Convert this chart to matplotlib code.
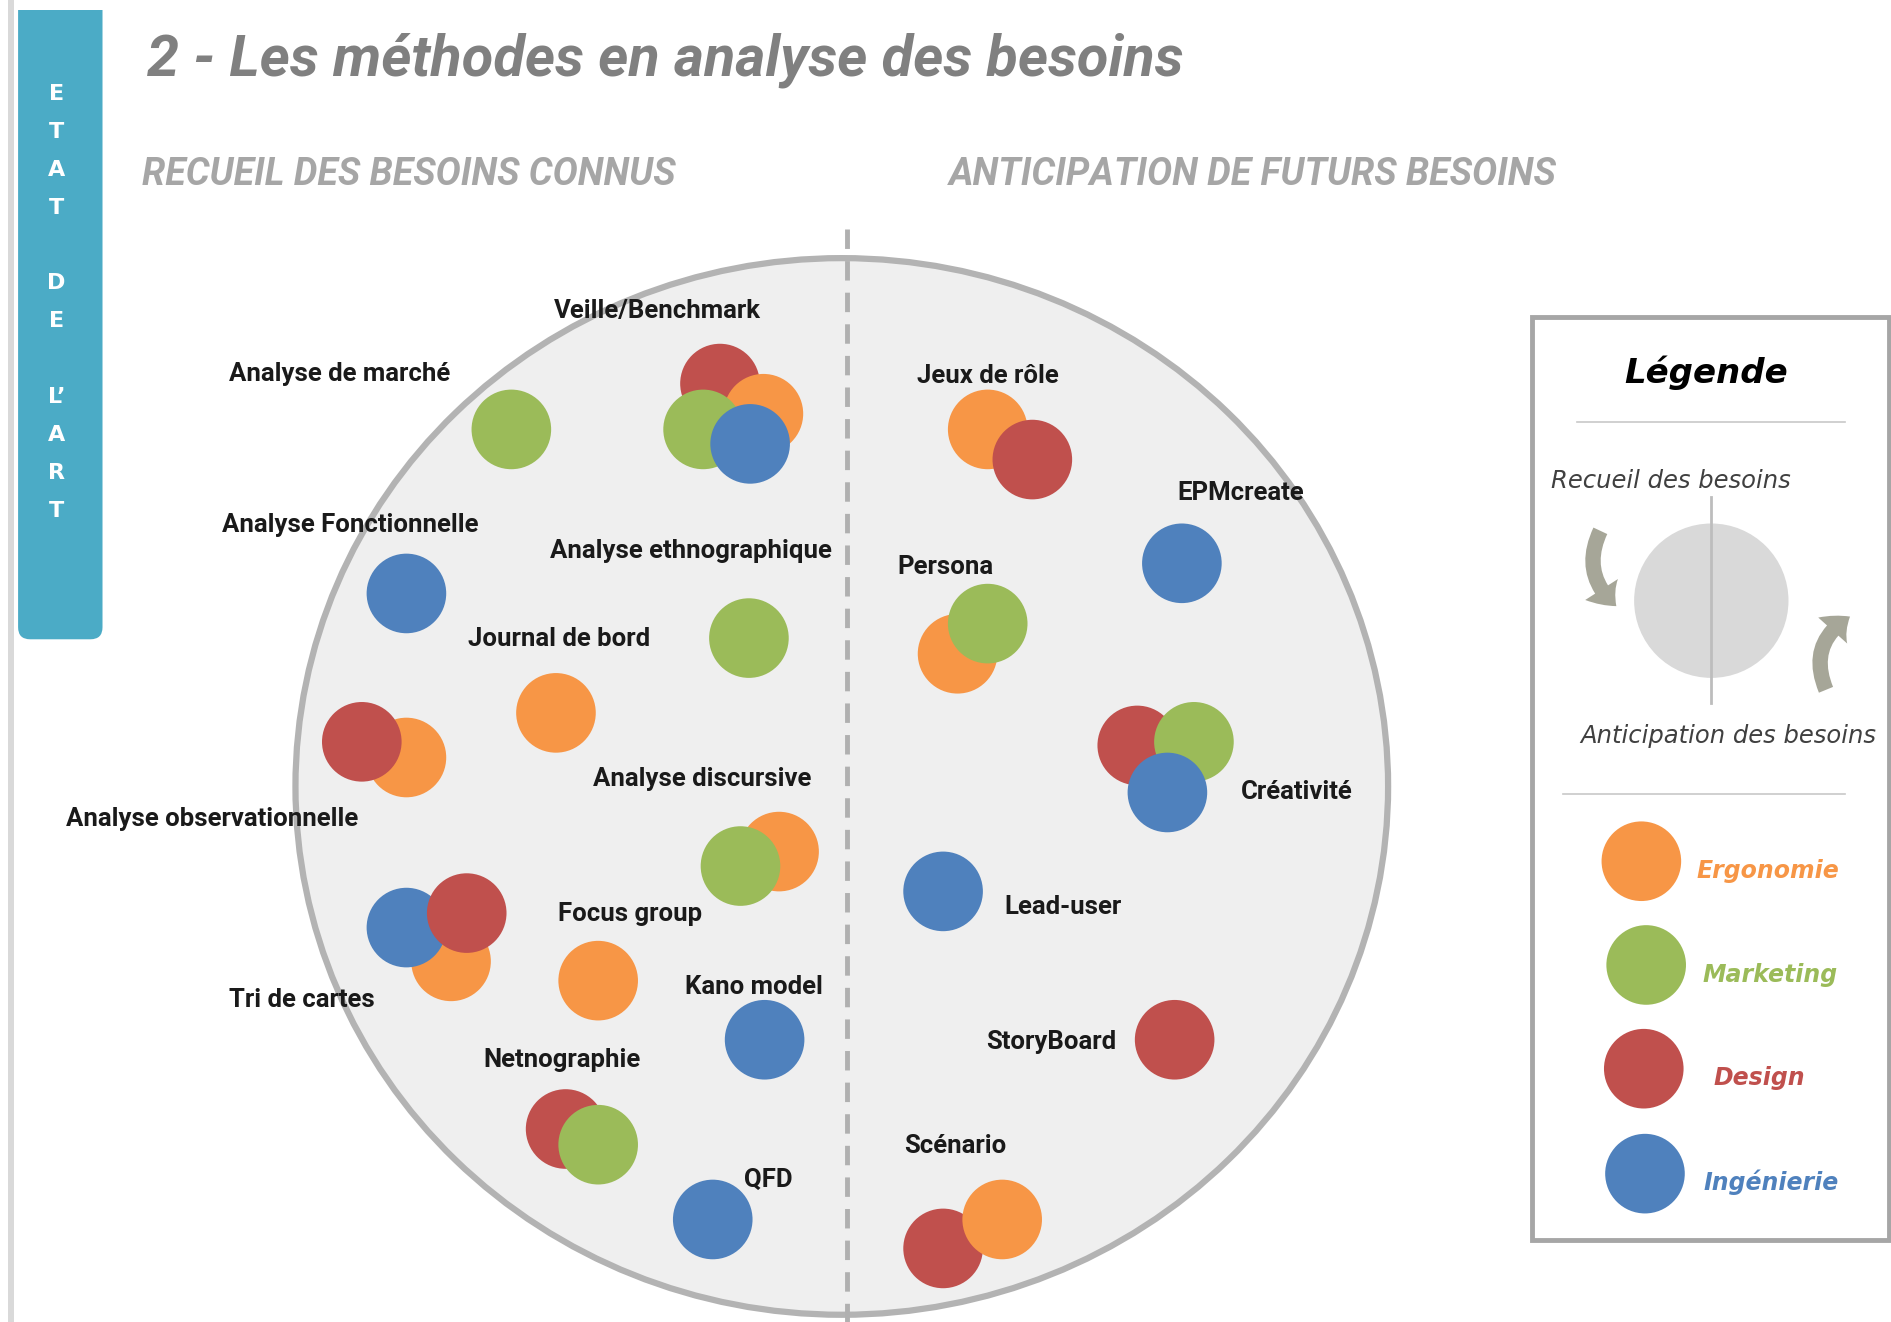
import matplotlib.pyplot as plt
from matplotlib import font_manager
from matplotlib.patches import Circle, Ellipse, Rectangle, FancyBboxPatch, FancyArrowPatch

# disciplines and colours
disciplines = ["Ergonomie", "Marketing", "Design", "Ingénierie"]
colors = {"Ergonomie": "#f79646", "Marketing": "#9bbb59",
          "Design": "#c0504d", "Ingénierie": "#4f81bd"}

# methods : which disciplines use them (drawing order = list order)
methods_known = ["Analyse de marché", "Veille/Benchmark", "Analyse Fonctionnelle",
                 "Analyse ethnographique", "Journal de bord", "Analyse observationnelle",
                 "Analyse discursive", "Tri de cartes", "Focus group", "Kano model",
                 "Netnographie", "QFD"]
methods_future = ["Jeux de rôle", "EPMcreate", "Persona", "Créativité",
                  "Lead-user", "StoryBoard", "Scénario"]

uses = {
    "Analyse de marché": ["Marketing"],
    "Veille/Benchmark": ["Design", "Ergonomie", "Marketing", "Ingénierie"],
    "Analyse Fonctionnelle": ["Ingénierie"],
    "Analyse ethnographique": ["Marketing"],
    "Journal de bord": ["Ergonomie"],
    "Analyse observationnelle": ["Ergonomie", "Design"],
    "Analyse discursive": ["Ergonomie", "Marketing"],
    "Tri de cartes": ["Ergonomie", "Ingénierie", "Design"],
    "Focus group": ["Ergonomie"],
    "Kano model": ["Ingénierie"],
    "Netnographie": ["Design", "Marketing"],
    "QFD": ["Ingénierie"],
    "Jeux de rôle": ["Ergonomie", "Design"],
    "EPMcreate": ["Ingénierie"],
    "Persona": ["Ergonomie", "Marketing"],
    "Créativité": ["Design", "Marketing", "Ingénierie"],
    "Lead-user": ["Ingénierie"],
    "StoryBoard": ["Design"],
    "Scénario": ["Design", "Ergonomie"],
}

# layout (in pixel units of a 1568 x 1096 canvas)
label_pos = {
    "Analyse de marché": (190, 310), "Veille/Benchmark": (459, 258),
    "Analyse Fonctionnelle": (184, 435), "Analyse ethnographique": (456, 457),
    "Journal de bord": (388, 530), "Analyse observationnelle": (55, 679),
    "Analyse discursive": (492, 646), "Tri de cartes": (190, 829),
    "Focus group": (463, 758), "Kano model": (568, 818),
    "Netnographie": (401, 879), "QFD": (617, 978),
    "Jeux de rôle": (760, 312), "EPMcreate": (976, 409), "Persona": (744, 470),
    "Créativité": (1029, 657), "Lead-user": (833, 752),
    "StoryBoard": (818, 864), "Scénario": (750, 950),
}
bubble_pos = {
    "Analyse de marché": [(424, 356)],
    "Veille/Benchmark": [(597, 318), (633, 343), (583, 356), (622, 368)],
    "Analyse Fonctionnelle": [(337, 492)],
    "Analyse ethnographique": [(621, 529)],
    "Journal de bord": [(461, 591)],
    "Analyse observationnelle": [(337, 628), (300, 615)],
    "Analyse discursive": [(646, 706), (614, 718)],
    "Tri de cartes": [(374, 797), (337, 769), (387, 757)],
    "Focus group": [(496, 813)],
    "Kano model": [(634, 862)],
    "Netnographie": [(469, 936), (496, 949)],
    "QFD": [(591, 1011)],
    "Jeux de rôle": [(819, 356), (856, 381)],
    "EPMcreate": [(980, 467)],
    "Persona": [(794, 542), (819, 517)],
    "Créativité": [(943, 618), (990, 615), (968, 657)],
    "Lead-user": [(782, 739)],
    "StoryBoard": [(974, 862)],
    "Scénario": [(782, 1035), (831, 1011)],
}
legend_bubbles = [(1361, 714), (1365, 800), (1363, 886), (1364, 973)]
legend_labels = [(1466, 722), (1468, 808), (1459, 894), (1469, 980)]
R = 33


def has_font(name):
    try:
        font_manager.findfont(name, fallback_to_default=False)
        return True
    except Exception:
        return False


narrow = "Liberation Sans Narrow" if has_font("Liberation Sans Narrow") else "Roboto"

W, H = 1568, 1096
fig = plt.figure(figsize=(18.91, 13.22), dpi=100)
ax = fig.add_axes([0, 0, 1, 1])
ax.set_xlim(0, W)
ax.set_ylim(H, 0)
ax.axis("off")

# left side bar
ax.add_patch(Rectangle((7, 0), 5, H, color="#d9d9d9", lw=0))
ax.add_patch(FancyBboxPatch((15, -40), 70, 570, boxstyle="round,pad=0,rounding_size=10",
                            fc="#4babc6", ec="none"))
ax.add_patch(Rectangle((13, -50), 80, 58, color="white", lw=0, zorder=2))
side_letters = ["E", "T", "A", "T", "", "D", "E", "", "L’", "A", "R", "T"]
y = 78
for ch in side_letters:
    if ch:
        ax.text(47, y, ch, color="white", fontsize=16, fontweight="bold",
                ha="center", va="center", family="DejaVu Sans")
    y += 31.4

# titles
ax.text(122, 50, "2 - Les méthodes en analyse des besoins", fontsize=41.5,
        fontweight="bold", style="italic", color="#808080", va="center", family=narrow)
ax.text(118, 145, "RECUEIL DES BESOINS CONNUS", fontsize=27, fontweight="bold",
        style="italic", color="#a6a6a6", va="center", family=narrow)
ax.text(787, 145, "ANTICIPATION DE FUTURS BESOINS", fontsize=27, fontweight="bold",
        style="italic", color="#a6a6a6", va="center", family=narrow)

# big circle + dashed divider
ax.add_patch(Ellipse((698, 652), 906, 876, fc="#efefef", ec="#b3b3b3", lw=4.5))
ax.plot([702, 702], [190, H], color="#b0b0b0", lw=3.5, ls=(0, (4, 2.5)))

for m in methods_known + methods_future:
    for d, (cx, cy) in zip(uses[m], bubble_pos[m]):
        ax.add_patch(Circle((cx, cy), R, color=colors[d], lw=0, zorder=3))
    lx, ly = label_pos[m]
    ax.text(lx, ly, m, fontsize=18.5, fontweight="bold", color="#1a1a1a",
            va="center", ha="left", family=narrow, zorder=4)

# legend panel
ax.add_patch(Rectangle((1270, 263), 296, 765, fill=False, ec="#a6a6a6", lw=3.5))
ax.text(1415, 309, "Légende", fontsize=24.5, fontweight="bold", style="italic",
        ha="center", va="center", color="black", family="DejaVu Sans")
ax.plot([1308, 1530], [350, 350], color="#c8c8c8", lw=1.2)
ax.text(1286, 399, "Recueil des besoins", fontsize=17.5, style="italic",
        ha="left", va="center", color="#404040", family="DejaVu Sans")
ax.add_patch(Circle((1419, 498), 64, fc="#d9d9d9", ec="none"))
ax.plot([1419, 1419], [412, 583], color="#bdbdbd", lw=2)
arrow_style = "simple,head_length=16,head_width=28,tail_width=11"
ax.add_patch(FancyArrowPatch((1328, 438), (1342, 504), connectionstyle="arc3,rad=0.4",
                             arrowstyle=arrow_style, color="#a6a698", lw=0))
ax.add_patch(FancyArrowPatch((1515, 574), (1536, 510), connectionstyle="arc3,rad=-0.45",
                             arrowstyle=arrow_style, color="#a6a698", lw=0))
ax.text(1310, 610, "Anticipation des besoins", fontsize=17.5, style="italic",
        ha="left", va="center", color="#404040", family="DejaVu Sans")
ax.plot([1296, 1530], [658, 658], color="#c8c8c8", lw=1.2)
for d, (cx, cy), (tx, ty) in zip(disciplines, legend_bubbles, legend_labels):
    ax.add_patch(Circle((cx, cy), R, color=colors[d], lw=0))
    ax.text(tx, ty, d, fontsize=17, fontweight="bold", style="italic", color=colors[d],
            ha="center", va="center", family="DejaVu Sans")

fig.savefig("out.png", dpi=100)
